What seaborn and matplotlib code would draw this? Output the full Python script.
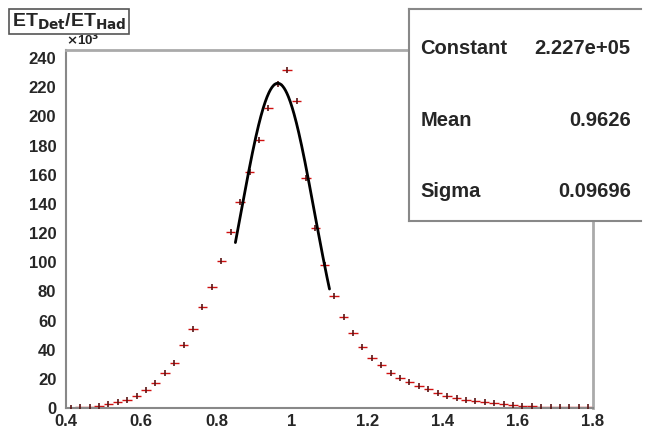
import numpy as np
import pandas as pd
import seaborn as sns
import matplotlib.pyplot as plt
from matplotlib.ticker import MultipleLocator

# histogram bins (ET_Det / ET_Had), values in units of 10^3
bin_centers = [0.4125, 0.4375, 0.4625, 0.4875, 0.5125, 0.5375, 0.5625, 0.5875,
               0.6125, 0.6375, 0.6625, 0.6875, 0.7125, 0.7375, 0.7625, 0.7875,
               0.8125, 0.8375, 0.8625, 0.8875, 0.9125, 0.9375, 0.9625, 0.9875,
               1.0125, 1.0375, 1.0625, 1.0875, 1.1125, 1.1375, 1.1625, 1.1875,
               1.2125, 1.2375, 1.2625, 1.2875, 1.3125, 1.3375, 1.3625, 1.3875,
               1.4125, 1.4375, 1.4625, 1.4875, 1.5125, 1.5375, 1.5625, 1.5875,
               1.6125, 1.6375, 1.6625, 1.6875, 1.7125, 1.7375, 1.7625, 1.7875]
counts = [0.3, 0.5, 0.8, 1.5, 2.8, 4.0, 5.6, 7.9,
          12.1, 16.9, 24.2, 31.1, 43.2, 54.2, 69.0, 83.2,
          100.5, 120.8, 141.0, 162.0, 183.8, 206.0, 222.0, 231.8,
          210.5, 158.0, 123.7, 98.3, 76.8, 62.2, 51.6, 41.8,
          34.5, 29.5, 24.2, 20.8, 18.0, 15.1, 12.8, 10.5,
          8.0, 6.7, 5.6, 4.6, 3.8, 3.1, 2.5, 2.0,
          1.6, 1.3, 1.0, 0.8, 0.7, 0.6, 0.5, 0.4]
bin_half_width = 0.0125

# gaussian fit parameters (as shown in the stats box)
fit_constant = 2.227e5
fit_mean = 0.9626
fit_sigma = 0.09696
fit_range = [0.85, 1.1]

stat_names = ["Constant", "Mean", "Sigma"]
stat_values = ["2.227e+05", "0.9626", "0.09696"]

df = pd.DataFrame({"x": bin_centers, "y": counts})
fx = np.linspace(fit_range[0], fit_range[1], 200)
fit_df = pd.DataFrame({
    "x": fx,
    "y": fit_constant * np.exp(-0.5 * ((fx - fit_mean) / fit_sigma) ** 2) / 1e3,
})

sns.set_style("white")
plt.rcParams["font.family"] = ["Liberation Sans", "DejaVu Sans"]
plt.rcParams["font.weight"] = "bold"

fig = plt.figure(figsize=(6.45, 4.33), dpi=100)
ax = fig.add_axes([0.1023, 0.0577, 0.8171, 0.8268])

# data points with horizontal bin-width bars
ax.errorbar(df["x"], df["y"], xerr=bin_half_width, fmt="none",
            ecolor="#d01010", elinewidth=1.0, capsize=0, zorder=2)
sns.scatterplot(data=df, x="x", y="y", marker="|", s=14, color="#5a1414",
                linewidth=1.2, ax=ax, zorder=3)
sns.lineplot(data=fit_df, x="x", y="y", color="black", linewidth=2.0,
             ax=ax, zorder=4)

ax.set_xlim(0.4, 1.8)
ax.set_ylim(0, 245.5)
ax.set_xlabel("")
ax.set_ylabel("")

ax.xaxis.set_minor_locator(MultipleLocator(0.05))
ax.yaxis.set_minor_locator(MultipleLocator(5))
ax.set_xticks(np.arange(0.4, 1.81, 0.2))
ax.set_xticklabels(["0.4", "0.6", "0.8", "1", "1.2", "1.4", "1.6", "1.8"])
ax.set_yticks(np.arange(0, 241, 20))
ax.set_yticklabels([str(v) for v in range(0, 241, 20)])

ax.tick_params(axis="y", which="major", direction="in", length=13,
               width=1.2, color="#777777", labelsize=12, pad=7)
ax.tick_params(axis="x", which="major", direction="in", length=10,
               width=1.2, color="#777777", labelsize=12, pad=4)
ax.tick_params(axis="both", which="minor", direction="in", length=5,
               width=1.0, color="#999999")
for lab in ax.get_xticklabels() + ax.get_yticklabels():
    lab.set_fontweight("bold")

for side in ["left", "bottom"]:
    ax.spines[side].set_color("#888888")
    ax.spines[side].set_linewidth(1.5)
for side in ["top", "right"]:
    ax.spines[side].set_color("#aaaaaa")
    ax.spines[side].set_linewidth(2.0)

# exponent label
ax.text(0.0, 1.005, r"$\times$10$^{3}$", transform=ax.transAxes, fontsize=9.5,
        fontweight="bold", ha="left", va="bottom", color="#222222")

# title box
fig.text(0.018, 0.95, r"ET$_{\mathbf{Det}}$/ET$_{\mathbf{Had}}$", fontsize=14,
         fontweight="bold", ha="left", va="center",
         bbox=dict(boxstyle="square,pad=0.12", facecolor="white",
                   edgecolor="#555555", linewidth=1.2))

# stats box
stats_ax = fig.add_axes([0.634, 0.49, 0.36, 0.49])
stats_ax.set_xticks([])
stats_ax.set_yticks([])
stats_ax.set_facecolor("white")
for sp in stats_ax.spines.values():
    sp.set_color("#888888")
    sp.set_linewidth(1.5)
stats_ax.spines["right"].set_visible(False)
for i, (name, val) in enumerate(zip(stat_names, stat_values)):
    yy = 0.81 - i * 0.335
    stats_ax.text(0.05, yy, name, fontsize=14.5, fontweight="bold",
                  ha="left", va="center", transform=stats_ax.transAxes)
    stats_ax.text(0.955, yy, val, fontsize=14.5, fontweight="bold",
                  ha="right", va="center", transform=stats_ax.transAxes)

fig.savefig("out.png", dpi=100)
